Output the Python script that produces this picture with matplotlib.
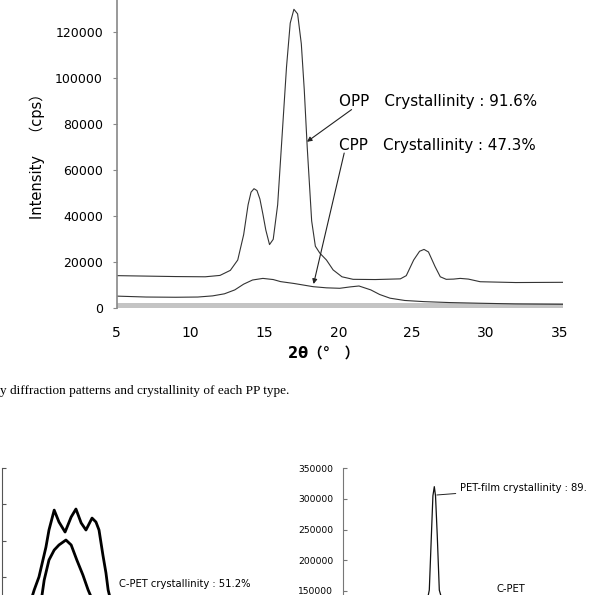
""" X-ray diffraction patterns page scan: PP types (top), PET types (bottom, cut)
"""
import matplotlib
matplotlib.use("Agg")
import matplotlib.pyplot as plt

FIG_W, FIG_H = 614, 595
DPI = 100

# top chart: PP films
opp_x = [5, 7, 9, 11, 12, 12.7, 13.2, 13.6, 13.9, 14.1, 14.3, 14.5, 14.7, 14.9,
         15.1, 15.35, 15.6, 15.9, 16.2, 16.5, 16.75, 17.0, 17.25, 17.5, 17.7, 17.9,
         18.2, 18.45, 18.75, 19.2, 19.65, 20.25, 21.0, 22.5, 24.2, 24.6, 25.1, 25.5,
         25.8, 26.1, 26.55, 26.9, 27.3, 27.8, 28.25, 28.8, 29.6, 32, 35.2]
opp_y = [14200, 14000, 13800, 13700, 14300, 16500, 21000, 32000, 45000, 50500,
         52000, 51200, 47500, 41000, 34000, 27700, 30000, 45000, 75000, 105000,
         124000, 130000, 128000, 115000, 95000, 70000, 38000, 27000, 24000, 21000,
         16700, 13700, 12600, 12500, 12800, 14200, 21000, 24800, 25600, 24500,
         18100, 13700, 12600, 12700, 13000, 12700, 11550, 11200, 11300]

cpp_x = [5, 7, 9, 10.5, 11.5, 12.3, 13.0, 13.6, 14.2, 14.9, 15.6, 16.1, 17.0, 18.3,
         19.2, 20.1, 20.8, 21.4, 22.2, 22.8, 23.5, 24.5, 25.8, 27.5, 29.6, 32, 35.2]
cpp_y = [5300, 4900, 4800, 4900, 5400, 6300, 8000, 10500, 12300, 13000, 12500,
         11600, 10800, 9400, 8900, 8700, 9300, 9700, 8000, 6000, 4400, 3400, 2900,
         2500, 2200, 1900, 1750]

pp_yticks = [0, 20000, 40000, 60000, 80000, 100000, 120000]
pp_xticks = [5, 10, 15, 20, 25, 30, 35]

# bottom left chart: C-PET (labels cut off the page)
cpet_outer_x = [11.9, 12.4, 13.5, 15.1, 15.8, 17.0, 18.1, 19.5, 20.9, 22.0, 23.2,
                24.3, 25.7, 26.6, 27.3, 28.2, 28.9, 29.4, 29.8]
cpet_outer_y = [7230, 8200, 10000, 14100, 16460, 19200, 17560, 16180, 18250, 19350,
                17430, 16460, 18100, 17560, 16460, 13000, 10540, 8200, 7230]
cpet_inner_x = [14.2, 14.7, 15.8, 17.0, 18.1, 19.7, 20.9, 22.2, 23.6, 24.8, 25.5]
cpet_inner_y = [7500, 9570, 12330, 13700, 14400, 15080, 14400, 12330, 10260, 8200, 7230]
cpet_yticks = [10000, 15000, 20000, 25000]

# bottom right chart: PET film
petf_x = [23.8, 24.54, 24.77, 25.3, 25.6, 25.92, 26.2, 26.6, 27.07, 27.39, 28.0]
petf_y = [100000, 143000, 151000, 250000, 305000, 320000, 305000, 240000, 151000,
          143000, 100000]
petf_yticks = [150000, 200000, 250000, 300000, 350000]


def px_axes(fig, left, top, right, bottom):
    """axes from pixel box (origin top-left)"""
    return fig.add_axes([left / FIG_W, (FIG_H - bottom) / FIG_H,
                         (right - left) / FIG_W, (bottom - top) / FIG_H])


def main() -> None:
    fig = plt.figure(figsize=(FIG_W / DPI, FIG_H / DPI), dpi=DPI)
    jp = ["DejaVu Sans", "Noto Sans CJK JP"]

    # ---- top chart
    ax = px_axes(fig, 116.5, -13.7, 563, 308.3)
    ax.set_xlim(5, 35.2)
    ax.set_ylim(0, 140000)
    ax.axhspan(0, 2400, color="#c4c4c4", lw=0)
    ax.plot(opp_x, opp_y, color="#333333", lw=0.8)
    ax.plot(cpp_x, cpp_y, color="#333333", lw=0.8)
    for s in ["top", "right", "bottom"]:
        ax.spines[s].set_visible(False)
    ax.spines["left"].set_color("#888888")
    ax.spines["left"].set_linewidth(1.2)
    ax.set_yticks(pp_yticks)
    ax.set_xticks(pp_xticks)
    ax.tick_params(axis="y", direction="out", length=2.9, width=0.8,
                   color="#888888", pad=6.8, labelsize=9)
    ax.tick_params(axis="x", length=0, pad=12.5, labelsize=10)
    ax.set_ylabel("Intensity\u3000（cps）", family=jp, fontsize=10.5, va="center")
    ax.yaxis.set_label_coords(-0.177, 0.485)
    ax.set_xlabel("2θ（°\u3000）", family=jp, fontsize=10.5, weight="bold", va="center")
    ax.xaxis.set_label_coords(0.465, -0.139)

    arrow = dict(arrowstyle="-|>", color="#222222", lw=0.8, mutation_scale=7,
                 shrinkA=0, shrinkB=0)
    ax.text(20.07, 89800, "OPP\u3000Crystallinity : 91.6%", family=jp,
            fontsize=10.9, va="center", ha="left")
    ax.text(20.07, 71000, "CPP\u3000Crystallinity : 47.3%", family=jp,
            fontsize=10.9, va="center", ha="left")
    ax.annotate("", xy=(17.88, 72400), xytext=(20.9, 86400), arrowprops=arrow)
    ax.annotate("", xy=(18.33, 10570), xytext=(20.4, 67500), arrowprops=arrow)

    # ---- caption (cut at left page edge)
    fig.text(0.5 / FIG_W, 1 - 390.7 / FIG_H,
             "y diffraction patterns and crystallinity of each PP type.",
             family="Liberation Serif", fontsize=9.5, ha="left", va="center")

    # ---- bottom left chart
    axl = px_axes(fig, 2, 468, 2 + 45 * 4.35, 613.2)
    axl.set_xlim(5, 50)
    axl.set_ylim(5000, 25000)
    axl.plot(cpet_outer_x, cpet_outer_y, color="black", lw=2.0)
    axl.plot(cpet_inner_x, cpet_inner_y, color="black", lw=2.0)
    for s in ["top", "right", "bottom"]:
        axl.spines[s].set_visible(False)
    axl.spines["left"].set_color("#555555")
    axl.set_yticks(cpet_yticks)
    axl.set_xticks([])
    axl.tick_params(axis="y", direction="in", length=3, color="#555555",
                    labelleft=False)
    fig.text(119 / FIG_W, 1 - 584 / FIG_H, "C-PET crystallinity : 51.2%",
             family=jp, fontsize=7.2, ha="left", va="center")

    # ---- bottom right chart
    axr = px_axes(fig, 343.3, 468.3, 343.3 + 60 * 4.35, 621.3)
    axr.set_xlim(5, 65)
    axr.set_ylim(100000, 350000)
    axr.plot(petf_x, petf_y, color="#111111", lw=0.9)
    for s in ["top", "right", "bottom"]:
        axr.spines[s].set_visible(False)
    axr.spines["left"].set_color("#777777")
    axr.set_yticks(petf_yticks)
    axr.set_xticks([])
    axr.tick_params(axis="y", direction="in", length=3, color="#777777",
                    pad=7.2, labelsize=6.6)
    axr.annotate("PET-film crystallinity : 89.", xy=(26.5, 306400),
                 xytext=(31.8, 317300), family=jp, fontsize=7.2, va="center",
                 ha="left", arrowprops=dict(arrowstyle="-", lw=0.7, color="#222222",
                                            shrinkA=1, shrinkB=0))
    axr.annotate("C-PET", xy=(38.0, 135000), xytext=(40.2, 153000), family=jp,
                 fontsize=7.2, va="center", ha="left",
                 arrowprops=dict(arrowstyle="-", lw=0.7, color="#222222",
                                 shrinkA=1, shrinkB=0))

    fig.savefig("out.png", dpi=DPI)
    plt.close(fig)


if __name__ == "__main__":
    main()
